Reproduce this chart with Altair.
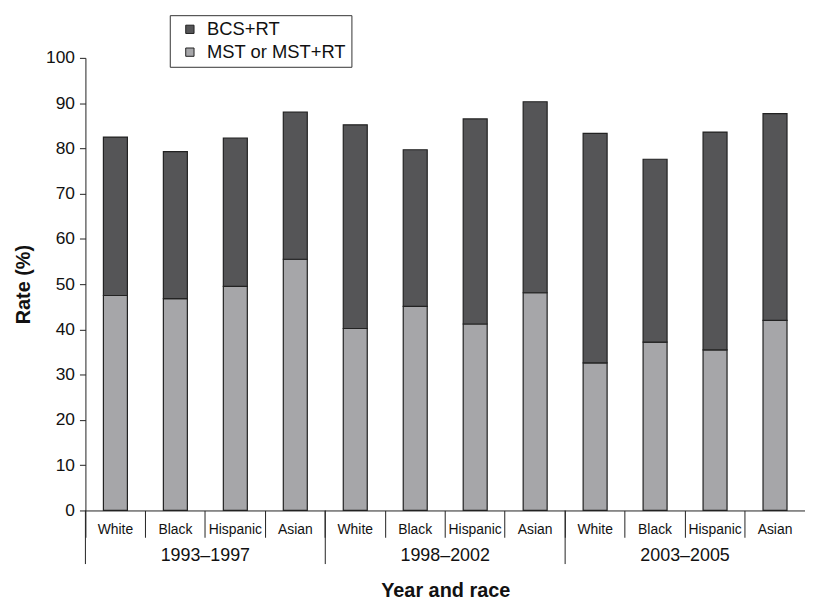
import altair as alt
import pandas as pd

periods = ["1993–1997", "1998–2002", "2003–2005"]
races = ["White", "Black", "Hispanic", "Asian"]
treatments = ["BCS+RT", "MST or MST+RT"]
colors = ["#555557", "#a6a6a9"]

# values (%)
mst_vals = [47.5, 46.8, 49.5, 55.5, 40.2, 45.1, 41.2, 48.1, 32.6, 37.2, 35.5, 42.0]
bcs_vals = [35.0, 32.5, 32.8, 32.5, 45.0, 34.6, 45.3, 42.2, 50.7, 40.4, 48.1, 45.7]

rows = []
for i in range(12):
    rows.append(dict(slot=i, race=races[i % 4], period=periods[i // 4],
                     treatment=treatments[1], value=mst_vals[i], ord=0))
    rows.append(dict(slot=i, race=races[i % 4], period=periods[i // 4],
                     treatment=treatments[0], value=bcs_vals[i], ord=1))
df = pd.DataFrame(rows)

W = 725
H = 456
FONT = "Liberation Sans"
AX = "#222222"
TXT = "#111111"

bars = alt.Chart(df).mark_bar(
    width=alt.RelativeBandSize(0.4), stroke="#222222", strokeWidth=1.2
).encode(
    x=alt.X("slot:O", scale=alt.Scale(paddingInner=0, paddingOuter=0),
            axis=alt.Axis(
                title="Year and race",
                labelExpr="['White','Black','Hispanic','Asian'][datum.value % 4]",
                labelAngle=0, bandPosition=0,
                tickSize=27, labelPadding=-15, labelFontSize=14,
                labelColor=TXT, tickColor=AX, domainColor=AX,
                titleFontSize=20, titleFontWeight="bold", titleColor=TXT,
                titlePadding=43)),
    y=alt.Y("value:Q", stack="zero", scale=alt.Scale(domain=[0, 100]),
            axis=alt.Axis(values=list(range(0, 101, 10)), title="Rate (%)",
                          grid=False, tickSize=6, labelPadding=5, labelFontSize=17.5,
                          labelColor=TXT, tickColor=AX, domainColor=AX,
                          titleFontSize=20, titleFontWeight="bold", titleColor=TXT,
                          titlePadding=12)),
    color=alt.Color("treatment:N", scale=alt.Scale(domain=treatments, range=colors),
                    legend=alt.Legend(title=None, orient="none", legendX=85, legendY=-43,
                                      strokeColor="#333333", fillColor="white",
                                      padding=5, symbolOffset=6, labelOffset=8,
                                      symbolType="square", symbolSize=70,
                                      symbolStrokeColor="#222222", symbolStrokeWidth=1,
                                      labelFontSize=18.5, labelColor=TXT,
                                      rowPadding=4)),
    order=alt.Order("ord:Q"),
)

bounds = pd.DataFrame({"slot": [0, 4, 8]})
seps = alt.Chart(bounds).mark_rule(color=AX, strokeWidth=1).encode(
    x=alt.X("slot:O", bandPosition=0),
    y=alt.value(H),
    y2=alt.value(H + 54),
)

plab = pd.DataFrame({"slot": [2, 6, 10], "period": periods})
plabels = alt.Chart(plab).mark_text(fontSize=18, baseline="middle", color=TXT,
                                    font=FONT).encode(
    x=alt.X("slot:O", bandPosition=0),
    y=alt.value(H + 46),
    text="period:N",
)

chart = alt.layer(bars, seps, plabels).properties(
    width=W, height=H,
    padding={"left": 5, "top": 4, "right": 0, "bottom": 0},
).configure(font=FONT).configure_view(stroke=None)

chart.save("out.html", embed_options={"renderer": "svg", "actions": False})
